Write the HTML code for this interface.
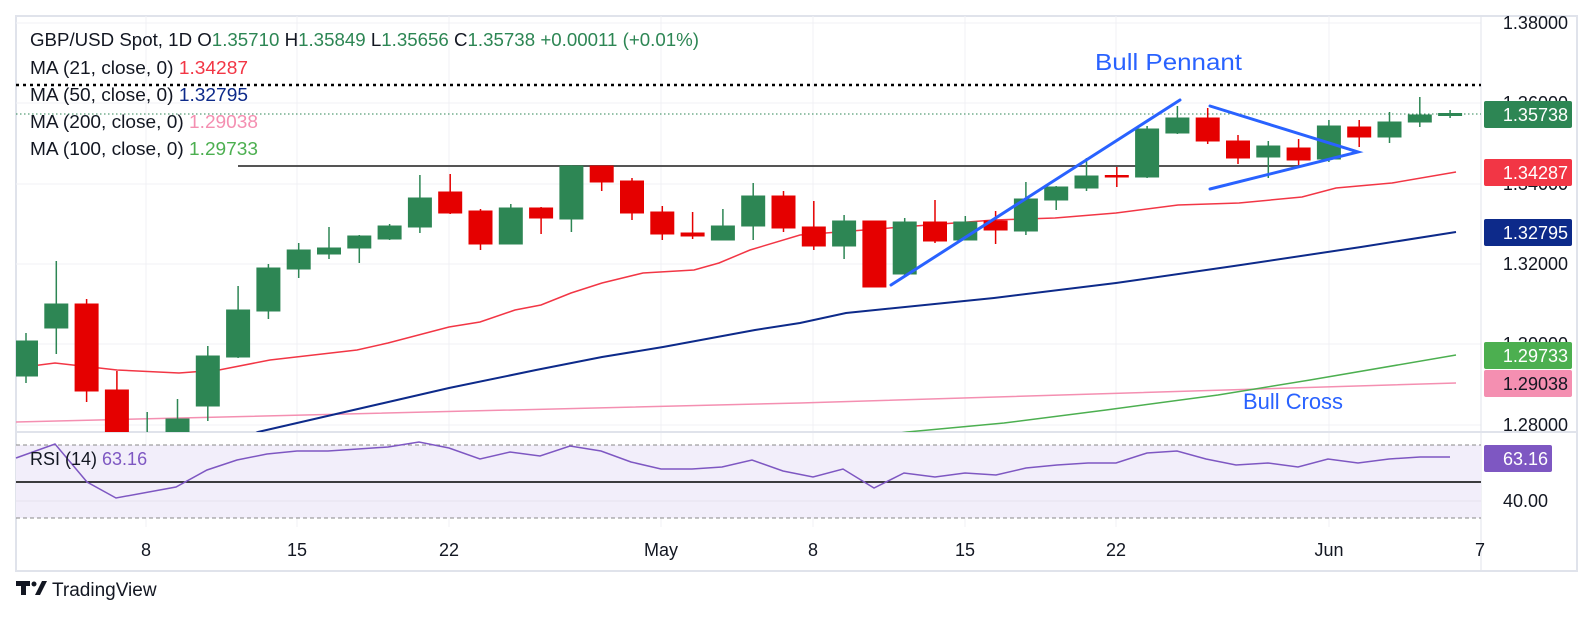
<!DOCTYPE html>
<html><head><meta charset="utf-8"><style>
html,body{margin:0;padding:0;background:#fff}
svg{display:block;font-family:"Liberation Sans",sans-serif}
.g{fill:#2d8654;stroke:#2d8654}.r{fill:#e50000;stroke:#e50000}
line.g,line.r{stroke-width:1.5}
.ax{font-size:18px;fill:#131722}
</style></head><body>
<svg width="1593" height="626" viewBox="0 0 1593 626" xmlns="http://www.w3.org/2000/svg">
<defs><clipPath id="cp"><rect x="16" y="16" width="1465" height="416"/></clipPath></defs>
<rect x="16" y="16" width="1561" height="555" fill="#fff" stroke="#e0e3eb" stroke-width="2"/>
<g stroke="#f0f1f4" stroke-width="1">
<line x1="16" x2="1481" y1="23" y2="23"/><line x1="16" x2="1481" y1="103" y2="103"/><line x1="16" x2="1481" y1="184" y2="184"/><line x1="16" x2="1481" y1="264" y2="264"/><line x1="16" x2="1481" y1="344" y2="344"/><line x1="16" x2="1481" y1="425" y2="425"/>
<line x1="146" x2="146" y1="16" y2="527"/><line x1="297" x2="297" y1="16" y2="527"/><line x1="449" x2="449" y1="16" y2="527"/><line x1="661" x2="661" y1="16" y2="527"/><line x1="813" x2="813" y1="16" y2="527"/><line x1="965" x2="965" y1="16" y2="527"/><line x1="1116" x2="1116" y1="16" y2="527"/><line x1="1329" x2="1329" y1="16" y2="527"/>
</g>
<line x1="1481" x2="1481" y1="16" y2="571" stroke="#e0e3eb"/>
<line x1="16" x2="1577" y1="432" y2="432" stroke="#e0e3eb" stroke-width="2"/>
<g clip-path="url(#cp)">
<line x1="16" x2="1483" y1="85" y2="85" stroke="#000" stroke-width="2.5" stroke-dasharray="3,4"/>
<line x1="16" x2="1483" y1="114" y2="114" stroke="#2d8654" stroke-width="1" stroke-dasharray="1.5,2.5"/>
<line x1="238" x2="1302" y1="166" y2="166" stroke="#555" stroke-width="2"/>
<polyline fill="none" stroke="#f48fb1" stroke-width="1.5" points="16,422 800,403 1456,383"/>
<polyline fill="none" stroke="#4caf50" stroke-width="1.5" points="850,440 907,432 1004,423 1106,410 1218,395 1310,380 1456,355"/>
<polyline fill="none" stroke="#0d2a8a" stroke-width="2" points="240,440 258,432 449,388 536,370 602,357 663,347 755,330 800,323 846,313 994,298 1116,283 1234,266 1361,247 1456,232"/>
<polyline fill="none" stroke="#f23645" stroke-width="1.5" points="16,368 55,363 117,370 179,373 219,370 270,360 357,350 388,343 449,327 480,322 515,310 541,305 571,293 602,283 643,273 694,270 719,263 750,250 800,235 902,227 994,220 1055,218 1116,213 1178,205 1239,203 1302,197 1336,188 1392,183 1456,172"/>
<line class="g" x1="26" x2="26" y1="333" y2="383"/><rect class="g" x="14.5" y="341" width="23" height="35"/>
<line class="g" x1="56.3" x2="56.3" y1="261" y2="354"/><rect class="g" x="44.8" y="304" width="23" height="24"/>
<line class="r" x1="86.6" x2="86.6" y1="299" y2="402"/><rect class="r" x="75.1" y="304" width="23" height="87"/>
<line class="r" x1="116.9" x2="116.9" y1="371" y2="440"/><rect class="r" x="105.4" y="390" width="23" height="50"/>
<line class="g" x1="147.2" x2="147.2" y1="412" y2="440"/>
<line class="g" x1="177.5" x2="177.5" y1="399" y2="440"/><rect class="g" x="166" y="419" width="23" height="21"/>
<line class="g" x1="207.8" x2="207.8" y1="346" y2="421"/><rect class="g" x="196.3" y="356" width="23" height="50"/>
<line class="g" x1="238.1" x2="238.1" y1="286" y2="358"/><rect class="g" x="226.6" y="310" width="23" height="47"/>
<line class="g" x1="268.4" x2="268.4" y1="264" y2="319"/><rect class="g" x="256.9" y="268" width="23" height="43"/>
<line class="g" x1="298.7" x2="298.7" y1="243" y2="278"/><rect class="g" x="287.2" y="250" width="23" height="19"/>
<line class="g" x1="329" x2="329" y1="227" y2="259"/><rect class="g" x="317.5" y="248" width="23" height="6"/>
<line class="g" x1="359.3" x2="359.3" y1="235" y2="263"/><rect class="g" x="347.8" y="236" width="23" height="12"/>
<line class="g" x1="389.6" x2="389.6" y1="224" y2="240"/><rect class="g" x="378.1" y="226" width="23" height="13"/>
<line class="g" x1="419.9" x2="419.9" y1="175" y2="233"/><rect class="g" x="408.4" y="198" width="23" height="29"/>
<line class="r" x1="450.2" x2="450.2" y1="174" y2="214"/><rect class="r" x="438.7" y="192" width="23" height="21"/>
<line class="r" x1="480.5" x2="480.5" y1="209" y2="250"/><rect class="r" x="469" y="211" width="23" height="33"/>
<line class="g" x1="510.8" x2="510.8" y1="204" y2="244"/><rect class="g" x="499.3" y="208" width="23" height="36"/>
<line class="r" x1="541.1" x2="541.1" y1="207" y2="234"/><rect class="r" x="529.6" y="208" width="23" height="10"/>
<line class="g" x1="571.4" x2="571.4" y1="165" y2="232"/><rect class="g" x="559.9" y="166" width="23" height="53"/>
<line class="r" x1="601.7" x2="601.7" y1="166" y2="191"/><rect class="r" x="590.2" y="166" width="23" height="16"/>
<line class="r" x1="632" x2="632" y1="178" y2="220"/><rect class="r" x="620.5" y="181" width="23" height="32"/>
<line class="r" x1="662.3" x2="662.3" y1="206" y2="240"/><rect class="r" x="650.8" y="212" width="23" height="22"/>
<line class="r" x1="692.6" x2="692.6" y1="212" y2="239"/><rect class="r" x="681.1" y="233" width="23" height="3"/>
<line class="g" x1="722.9" x2="722.9" y1="209" y2="240"/><rect class="g" x="711.4" y="226" width="23" height="14"/>
<line class="g" x1="753.2" x2="753.2" y1="183" y2="240"/><rect class="g" x="741.7" y="196" width="23" height="30"/>
<line class="r" x1="783.5" x2="783.5" y1="191" y2="232"/><rect class="r" x="772" y="196" width="23" height="32"/>
<line class="r" x1="813.8" x2="813.8" y1="201" y2="250"/><rect class="r" x="802.3" y="227" width="23" height="19"/>
<line class="g" x1="844.1" x2="844.1" y1="215" y2="259"/><rect class="g" x="832.6" y="221" width="23" height="25"/>
<line class="r" x1="874.4" x2="874.4" y1="221" y2="287"/><rect class="r" x="862.9" y="221" width="23" height="66"/>
<line class="g" x1="904.7" x2="904.7" y1="218" y2="276"/><rect class="g" x="893.2" y="222" width="23" height="52"/>
<line class="r" x1="935" x2="935" y1="200" y2="243"/><rect class="r" x="923.5" y="222" width="23" height="19"/>
<line class="g" x1="965.3" x2="965.3" y1="216" y2="240"/><rect class="g" x="953.8" y="222" width="23" height="18"/>
<line class="r" x1="995.6" x2="995.6" y1="211" y2="244"/><rect class="r" x="984.1" y="221" width="23" height="9"/>
<line class="g" x1="1025.9" x2="1025.9" y1="182" y2="235"/><rect class="g" x="1014.4" y="199" width="23" height="32"/>
<line class="g" x1="1056.2" x2="1056.2" y1="186" y2="210"/><rect class="g" x="1044.7" y="187" width="23" height="13"/>
<line class="g" x1="1086.5" x2="1086.5" y1="158" y2="191"/><rect class="g" x="1075" y="176" width="23" height="12"/>
<line class="r" x1="1116.8" x2="1116.8" y1="167" y2="187"/><rect class="r" x="1105.3" y="175.5" width="23" height="1.5"/>
<line class="g" x1="1147.1" x2="1147.1" y1="126" y2="178"/><rect class="g" x="1135.6" y="129" width="23" height="48"/>
<line class="g" x1="1177.4" x2="1177.4" y1="106" y2="134"/><rect class="g" x="1165.9" y="118" width="23" height="15"/>
<line class="r" x1="1207.7" x2="1207.7" y1="108" y2="144"/><rect class="r" x="1196.2" y="118" width="23" height="23"/>
<line class="r" x1="1238" x2="1238" y1="135" y2="164"/><rect class="r" x="1226.5" y="141" width="23" height="17"/>
<line class="g" x1="1268.3" x2="1268.3" y1="141" y2="178"/><rect class="g" x="1256.8" y="146" width="23" height="11"/>
<line class="r" x1="1298.6" x2="1298.6" y1="139" y2="165"/><rect class="r" x="1287.1" y="148" width="23" height="12"/>
<line class="g" x1="1328.9" x2="1328.9" y1="120" y2="162"/><rect class="g" x="1317.4" y="126" width="23" height="33"/>
<line class="r" x1="1359.2" x2="1359.2" y1="120" y2="147"/><rect class="r" x="1347.7" y="127" width="23" height="10"/>
<line class="g" x1="1389.5" x2="1389.5" y1="112" y2="143"/><rect class="g" x="1378" y="122" width="23" height="15"/>
<line class="g" x1="1419.8" x2="1419.8" y1="97" y2="127"/><rect class="g" x="1408.3" y="115" width="23" height="7"/>
<line class="g" x1="1450.1" x2="1450.1" y1="110" y2="118"/><rect class="g" x="1438.6" y="113.5" width="23" height="2"/>
<g stroke="#2962ff" stroke-width="3" stroke-linecap="round" fill="none">
<line x1="891" y1="285" x2="1180" y2="100"/>
<polyline points="1210,106 1358,152 1210,189"/>
</g>
</g>
<text x="1095" y="70" font-size="23" fill="#2962ff" textLength="147" lengthAdjust="spacingAndGlyphs">Bull Pennant</text>
<text x="1243" y="409" font-size="22" fill="#2962ff" textLength="100" lengthAdjust="spacingAndGlyphs">Bull Cross</text>
<g font-size="18" fill="#131722">
<text x="30" y="46" textLength="669" lengthAdjust="spacingAndGlyphs">GBP/USD Spot, 1D  O<tspan fill="#2d8654">1.35710</tspan>  H<tspan fill="#2d8654">1.35849</tspan>  L<tspan fill="#2d8654">1.35656</tspan>  C<tspan fill="#2d8654">1.35738</tspan>  <tspan fill="#2d8654">+0.00011 (+0.01%)</tspan></text>
<text x="30" y="74" textLength="218" lengthAdjust="spacingAndGlyphs">MA (21, close, 0)  <tspan fill="#f23645">1.34287</tspan></text>
<text x="30" y="101" textLength="218" lengthAdjust="spacingAndGlyphs">MA (50, close, 0)  <tspan fill="#0d2a8a">1.32795</tspan></text>
<text x="30" y="128" textLength="228" lengthAdjust="spacingAndGlyphs">MA (200, close, 0)  <tspan fill="#f48fb1">1.29038</tspan></text>
<text x="30" y="155" textLength="228" lengthAdjust="spacingAndGlyphs">MA (100, close, 0)  <tspan fill="#4caf50">1.29733</tspan></text>
</g>
<g class="ax" text-anchor="end">
<text x="1568" y="29">1.38000</text><text x="1568" y="109">1.36000</text><text x="1568" y="190">1.34000</text><text x="1568" y="270">1.32000</text><text x="1568" y="350">1.30000</text><text x="1568" y="431">1.28000</text>
</g>
<g font-size="18" fill="#fff" text-anchor="end">
<rect x="1484" y="101" width="88" height="27" rx="2" fill="#2d8654"/><text x="1568" y="121">1.35738</text>
<rect x="1484" y="159" width="88" height="27" rx="2" fill="#f23645"/><text x="1568" y="179">1.34287</text>
<rect x="1484" y="219" width="88" height="27" rx="2" fill="#0d2a8a"/><text x="1568" y="239">1.32795</text>
<rect x="1484" y="342" width="88" height="27" rx="2" fill="#4caf50"/><text x="1568" y="362">1.29733</text>
<rect x="1484" y="370" width="88" height="27" rx="2" fill="#f48fb1"/><text x="1568" y="390" fill="#131722">1.29038</text>
</g>
<rect x="16" y="445" width="1465" height="73" fill="#f2eefa"/>
<line x1="16" x2="1481" y1="501" y2="501" stroke="#e6e2ef"/>
<line x1="16" x2="1481" y1="445" y2="445" stroke="#888" stroke-dasharray="4,3"/>
<line x1="16" x2="1481" y1="518" y2="518" stroke="#888" stroke-dasharray="4,3"/>
<line x1="16" x2="1481" y1="482" y2="482" stroke="#000" stroke-width="1.5"/>
<polyline fill="none" stroke="#7e57c2" stroke-width="1.5" points="16,458 55,444 87,482 116,498 176,487 207,470 237,460 267,454 297,451 328,451 358,449 388,447 419,442 449,448 480,459 510,452 540,456 570,446 601,451 631,462 661,469 692,469 722,467 752,460 783,471 813,477 843,469 874,488 904,473 935,477 965,473 996,475 1026,468 1057,465 1088,463 1116,463 1147,453 1177,451 1206,459 1236,465 1268,463 1298,467 1328,459 1358,463 1389,459 1420,457 1450,457"/>
<text x="30" y="465" font-size="18" fill="#131722">RSI (14)  <tspan fill="#7e57c2">63.16</tspan></text>
<rect x="1484" y="445" width="68" height="27" rx="2" fill="#7e57c2"/>
<text x="1548" y="465" font-size="18" fill="#fff" text-anchor="end">63.16</text>
<text x="1548" y="507" class="ax" text-anchor="end">40.00</text>
<g class="ax" text-anchor="middle">
<text x="146" y="556">8</text><text x="297" y="556">15</text><text x="449" y="556">22</text><text x="661" y="556">May</text><text x="813" y="556">8</text><text x="965" y="556">15</text><text x="1116" y="556">22</text><text x="1329" y="556">Jun</text><text x="1480" y="556">7</text>
</g>
<g fill="#131722">
<rect x="16" y="581" width="14" height="5"/><rect x="21" y="581" width="5" height="14"/>
<circle cx="34" cy="584" r="2.5"/><polygon points="35,595 42,581 47,581 40,595"/>
<text x="52" y="596" font-size="19">TradingView</text>
</g>
</svg>
</body></html>
